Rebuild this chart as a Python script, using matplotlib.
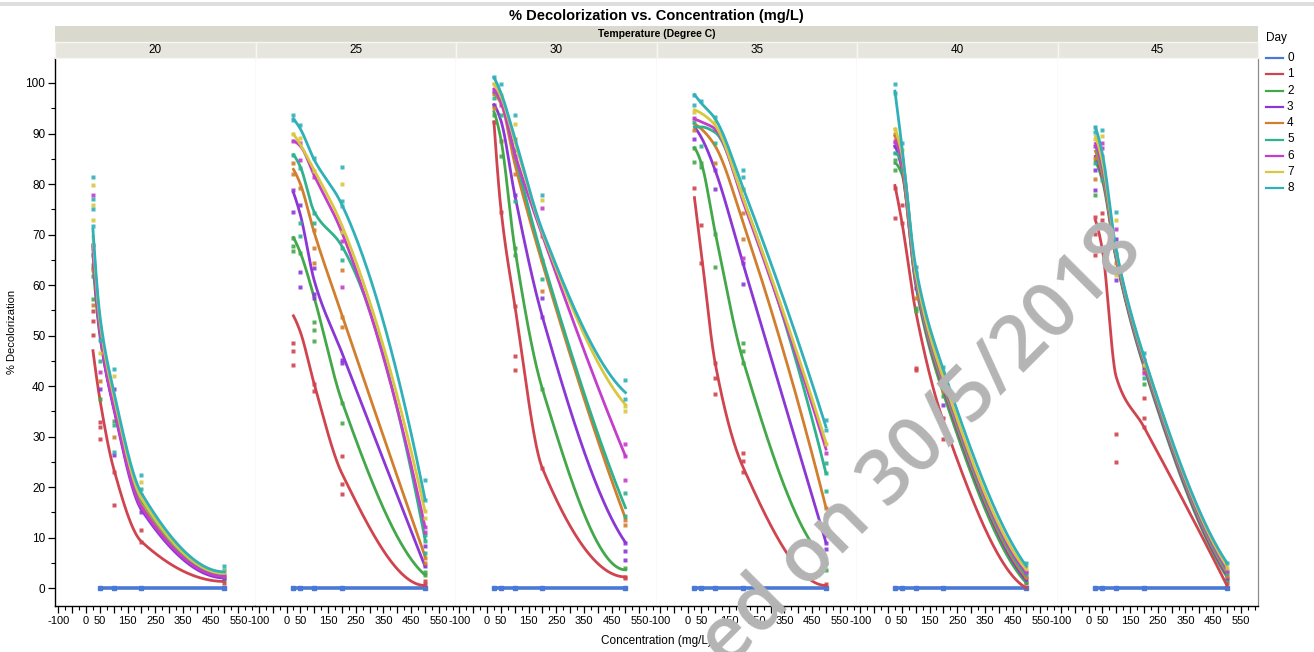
import numpy as np
import matplotlib.pyplot as plt
from matplotlib.lines import Line2D
from matplotlib.patches import Rectangle

plt.rcParams['font.family'] = ['Liberation Sans', 'DejaVu Sans']

temps = [20, 25, 30, 35, 40, 45]
days = [0, 1, 2, 3, 4, 5, 6, 7, 8]
conc = [25, 50, 100, 200, 500]
day_colors = ['#4a78d6', '#cf444e', '#43a84a', '#8b37d6', '#d17f2f',
              '#2fb28d', '#c43ecb', '#d8c840', '#30b0b8']

# smoother values at each concentration, days 1..8
fit_20 = [[47.0, 37.4, 23.6, 9.2, 1.3],
          [64.0, 50.0, 36.0, 16.0, 2.2],
          [66.0, 50.5, 35.5, 15.5, 2.0],
          [67.0, 51.5, 36.5, 16.5, 2.4],
          [68.0, 52.0, 37.5, 17.5, 2.8],
          [67.5, 51.0, 36.0, 16.0, 2.3],
          [69.6, 53.0, 38.0, 17.8, 2.9],
          [71.0, 54.0, 39.0, 18.8, 3.2]]
fit_25 = [[53.9, 50.7, 40.4, 22.7, 0.5],
          [69.4, 66.4, 57.5, 37.0, 2.6],
          [78.3, 73.9, 60.9, 46.6, 4.3],
          [82.9, 80.0, 70.4, 54.1, 6.3],
          [85.8, 83.4, 74.5, 67.7, 9.7],
          [88.5, 87.5, 81.7, 70.4, 12.1],
          [89.9, 87.8, 82.7, 71.8, 15.2],
          [92.9, 90.9, 84.8, 75.9, 17.6]]
fit_30 = [[92.3, 75.2, 56.1, 23.7, 2.2],
          [94.3, 88.9, 67.4, 39.4, 3.6],
          [95.7, 92.6, 77.9, 53.7, 9.0],
          [97.7, 96.0, 84.1, 64.3, 13.8],
          [98.1, 96.7, 85.8, 65.3, 15.9],
          [98.8, 96.4, 86.1, 69.8, 26.1],
          [99.8, 97.4, 88.5, 70.4, 36.3],
          [101.1, 98.1, 89.2, 70.8, 38.7]]
fit_35 = [[77.3, 66.3, 44.5, 24.0, 0.5],
          [87.2, 84.1, 70.4, 45.2, 5.6],
          [91.3, 89.2, 82.7, 64.3, 9.0],
          [91.9, 90.9, 87.5, 72.5, 15.9],
          [91.3, 91.3, 90.2, 77.3, 22.7],
          [92.9, 92.3, 90.9, 76.6, 27.5],
          [94.7, 94.0, 91.6, 77.3, 28.8],
          [97.7, 96.0, 92.9, 79.3, 31.9]]
fit_40 = [[79.7, 72.5, 54.8, 33.0, 0.0],
          [84.1, 82.0, 60.0, 38.5, 1.0],
          [87.5, 83.0, 60.5, 39.5, 1.5],
          [89.5, 84.0, 61.0, 40.0, 2.0],
          [86.1, 84.5, 61.5, 40.5, 2.5],
          [88.2, 85.0, 62.0, 41.0, 3.0],
          [90.9, 86.0, 62.5, 41.5, 3.6],
          [98.4, 87.5, 63.6, 43.2, 4.3]]
fit_45 = [[72.8, 67.0, 41.8, 31.9, 0.5],
          [84.5, 80.7, 65.0, 43.8, 2.2],
          [85.5, 81.5, 65.3, 44.2, 2.6],
          [86.5, 82.0, 65.6, 44.6, 3.0],
          [87.5, 83.0, 66.0, 45.0, 3.4],
          [88.0, 83.5, 66.3, 45.3, 3.8],
          [89.5, 84.5, 66.6, 45.6, 4.3],
          [91.2, 86.0, 67.0, 45.9, 5.0]]

# day 0 stays at zero
day0_conc_20 = [50, 100, 200, 500]
day0_conc = [25, 50, 100, 200, 500]

# replicate measurements (conc, value) by day
pts_20 = {
    8: [(25, 81.3), (25, 77), (25, 75), (25, 71.6), (50, 49.2), (100, 43.4), (100, 27), (200, 22.3), (500, 4.3)],
    7: [(25, 79.8), (25, 75.9), (25, 72.9), (50, 46.6), (100, 42), (200, 21), (500, 3.3)],
    6: [(25, 77.8), (50, 42.7), (100, 36.1), (200, 18.4), (500, 2.6)],
    5: [(25, 66), (50, 45), (100, 32.2), (200, 19.7), (500, 3.6)],
    4: [(25, 63), (25, 56), (50, 41), (100, 30), (200, 17.1), (500, 2.4)],
    3: [(25, 68), (50, 39.4), (100, 39.4), (100, 26.3), (200, 15.1), (500, 2.0)],
    2: [(25, 63.4), (25, 61.8), (25, 57.2), (50, 37.4), (100, 33), (200, 16), (500, 1.8)],
    1: [(25, 54.9), (25, 52.8), (25, 50.1), (50, 32.8), (50, 31.9), (50, 29.6), (100, 23), (100, 16.4),
        (200, 11.5), (200, 9.2), (500, 1.0)],
}
pts_25 = {
    8: [(25, 93.6), (25, 92.6), (50, 91.6), (100, 85.1), (200, 83.4), (200, 76.6), (200, 75.6), (500, 21.3), (500, 17.5)],
    7: [(25, 89.9), (50, 89.2), (100, 82.5), (200, 80), (200, 70.4), (500, 15.2), (500, 13.8)],
    6: [(25, 88.5), (50, 88.2), (50, 84.8), (100, 81.4), (200, 68.7), (200, 59.6), (500, 12.1), (500, 11.0)],
    5: [(25, 85.8), (50, 83.1), (50, 72.2), (50, 69.8), (100, 74.2), (100, 72.2), (200, 67.4), (200, 65),
        (500, 10.4), (500, 9.4), (500, 7.0)],
    4: [(25, 84.1), (25, 82), (50, 79.3), (100, 70.8), (100, 67.4), (100, 64.3), (200, 62.9), (200, 53.7),
        (200, 51.7), (500, 6), (500, 5)],
    3: [(25, 78.8), (25, 74.5), (50, 75.9), (50, 62.6), (50, 59.6), (100, 63.3), (100, 58.2), (100, 57.5),
        (200, 45.2), (200, 44.5), (500, 8.4), (500, 4.3)],
    2: [(25, 69.4), (25, 67.7), (25, 66.7), (50, 66.4), (100, 52.7), (100, 51), (100, 48.9), (200, 36.7),
        (200, 32.6), (500, 3.1), (500, 2.5)],
    1: [(25, 48.6), (25, 46.9), (25, 44.2), (100, 40.4), (100, 39.0), (200, 26.1), (200, 20.6), (200, 18.6),
        (500, 1.4), (500, 0.7)],
}
pts_30 = {
    8: [(25, 101.1), (50, 99.8), (100, 93.6), (200, 77.9), (500, 41.1), (500, 37.4)],
    7: [(25, 99.8), (50, 97.7), (100, 91.9), (200, 76.9), (500, 36), (500, 35)],
    6: [(25, 98.4), (50, 95.7), (100, 85.5), (200, 75.2), (500, 28.5), (500, 26.1), (500, 21.3)],
    5: [(25, 97), (50, 93.6), (100, 86.8), (100, 76.6), (200, 61.2), (500, 18.9), (500, 14.2)],
    4: [(25, 95), (100, 88.9), (100, 82), (200, 69.8), (200, 65), (200, 58.8), (500, 12.4), (500, 13.5)],
    3: [(25, 95.7), (100, 77.9), (200, 57.5), (200, 53.7), (500, 9), (500, 7.3), (500, 5.6)],
    2: [(25, 93.6), (50, 85.5), (100, 67.4), (100, 66), (200, 39.4), (500, 3.9)],
    1: [(25, 92.3), (50, 88.5), (50, 74.5), (100, 55.8), (100, 45.9), (100, 43.2), (200, 23.7), (500, 2.2), (500, 1.9)],
}
pts_35 = {
    8: [(25, 97.7), (25, 95.7), (50, 96.4), (100, 93.3), (200, 82.7), (200, 81.4), (500, 33.3), (500, 31.2)],
    7: [(25, 94.3), (100, 92.3), (200, 79), (500, 28.5)],
    6: [(25, 93), (100, 90.9), (200, 65.3), (500, 26.8)],
    5: [(25, 92.3), (50, 87.5), (100, 88.2), (200, 79), (500, 24.7), (500, 22.7), (500, 19.3)],
    4: [(25, 90.6), (100, 84.1), (200, 74.2), (200, 69.1), (500, 15.9), (500, 14.5)],
    3: [(25, 88.9), (100, 82.7), (100, 79), (200, 64.3), (200, 60.2), (500, 10.4), (500, 9), (500, 7.7)],
    2: [(25, 87.2), (25, 84.4), (50, 84.1), (50, 83.4), (100, 70.1), (100, 63.6), (200, 48.6), (200, 46.9),
        (200, 44.5), (500, 5), (500, 3.6)],
    1: [(25, 79.3), (50, 71.8), (50, 64.3), (100, 44.5), (100, 41.5), (100, 38.4), (200, 26.8), (200, 25.1),
        (200, 23), (500, 11.8), (500, 0.7)],
}
pts_40 = {
    8: [(25, 99.8), (25, 98.1), (50, 88.2), (100, 63.6), (200, 43.8), (500, 5)],
    7: [(25, 90.9), (50, 86.8), (100, 62.5), (200, 42.8), (500, 3.9)],
    6: [(25, 88.5), (50, 84.1), (100, 60.9), (200, 40.8), (500, 3.2)],
    5: [(25, 86.1), (50, 82.7), (100, 62.3), (200, 41.8), (500, 2.9)],
    4: [(25, 89.9), (50, 84), (100, 57.5), (200, 39), (500, 2.2)],
    3: [(25, 87.5), (50, 84.8), (100, 59.5), (200, 36.3), (500, 1.9)],
    2: [(25, 84.8), (25, 82.7), (100, 55.4), (100, 54.8), (200, 38), (500, 1.2)],
    1: [(25, 79.3), (25, 73.2), (50, 75.9), (50, 72.2), (100, 43.5), (100, 43.2), (200, 33.6), (200, 29.5), (500, 0.9)],
}
pts_45 = {
    8: [(25, 91.2), (25, 90.2), (50, 90.6), (100, 74.5), (200, 46.6), (500, 5)],
    7: [(25, 88.9), (50, 89.5), (100, 72.8), (100, 61.9), (200, 44.2), (500, 3.9)],
    6: [(25, 87.5), (50, 88.2), (50, 87.2), (100, 71.1), (200, 45.2), (200, 42.5), (500, 3.4)],
    5: [(25, 84.1), (50, 80.7), (100, 66.4), (200, 41.5), (500, 2.9)],
    4: [(25, 85.1), (25, 81), (50, 85.5), (100, 64.3), (200, 43), (500, 2.4)],
    3: [(25, 82.7), (25, 78.9), (50, 84.1), (100, 69.1), (100, 60.9), (200, 43.5), (500, 1.9)],
    2: [(25, 77.9), (50, 82), (100, 67.7), (200, 40.4), (500, 1.5)],
    1: [(25, 73.5), (25, 70.1), (25, 66), (50, 74.2), (50, 72.8), (50, 71.5), (100, 30.5), (100, 25),
        (200, 37.7), (200, 33.6), (200, 31.9), (500, 0.9)],
}

fits = {20: fit_20, 25: fit_25, 30: fit_30, 35: fit_35, 40: fit_40, 45: fit_45}
points = {20: pts_20, 25: pts_25, 30: pts_30, 35: pts_35, 40: pts_40, 45: pts_45}

x_ticks = list(range(-100, 551, 50))
x_labels = ['-100', '', '0', '50', '', '150', '', '250', '', '350', '', '450', '', '550']


def pchip(x, y, xs):
    # shape preserving cubic, used as the smoother
    x = np.asarray(x, float)
    y = np.asarray(y, float)
    h = np.diff(x)
    d = np.diff(y) / h
    n = len(x)
    m = np.zeros(n)
    for k in range(1, n - 1):
        if d[k - 1] * d[k] > 0:
            w1 = 2 * h[k] + h[k - 1]
            w2 = h[k] + 2 * h[k - 1]
            m[k] = (w1 + w2) / (w1 / d[k - 1] + w2 / d[k])

    def end(h0, h1, d0, d1):
        s = ((2 * h0 + h1) * d0 - h0 * d1) / (h0 + h1)
        if np.sign(s) != np.sign(d0):
            s = 0.0
        elif np.sign(d0) != np.sign(d1) and abs(s) > abs(3 * d0):
            s = 3 * d0
        return s

    m[0] = end(h[0], h[1], d[0], d[1])
    m[-1] = end(h[-1], h[-2], d[-1], d[-2])
    idx = np.clip(np.searchsorted(x, xs) - 1, 0, n - 2)
    t = (xs - x[idx]) / h[idx]
    h00 = 2 * t**3 - 3 * t**2 + 1
    h10 = t**3 - 2 * t**2 + t
    h01 = -2 * t**3 + 3 * t**2
    h11 = t**3 - t**2
    return h00 * y[idx] + h10 * h[idx] * m[idx] + h01 * y[idx + 1] + h11 * h[idx] * m[idx + 1]


W, H = 1314, 652
fig = plt.figure(figsize=(W / 100, H / 100), dpi=100)


def fx(px):
    return px / W


def fy(py):
    return 1 - py / H


left, right, top, bottom = 55, 1258, 58, 606
pw = (right - left) / len(temps)

# top grey band (browser frame)
fig.add_artist(Rectangle((0, fy(6)), 1, fy(2) - fy(6), transform=fig.transFigure,
                         color='#dedede', lw=0))

fig.text(fx((left + right) / 2), fy(16), '% Decolorization vs. Concentration (mg/L)',
         ha='center', va='center', fontsize=10.5, fontweight='bold')
fig.add_artist(Rectangle((fx(left), fy(42)), fx(right - left), fy(26) - fy(42),
                         transform=fig.transFigure, facecolor='#dad9cd', edgecolor='none'))
fig.text(fx((left + right) / 2), fy(34), 'Temperature (Degree C)',
         ha='center', va='center', fontsize=7.5, fontweight='bold')

xs = np.linspace(25, 500, 300)

for i, t in enumerate(temps):
    x0 = left + i * pw
    fig.add_artist(Rectangle((fx(x0), fy(58)), fx(pw), fy(42) - fy(58), transform=fig.transFigure,
                             facecolor='#e7e6de', edgecolor='#f6f6f2', lw=1))
    fig.text(fx(x0 + pw / 2), fy(50), str(t), ha='center', va='center', fontsize=8.5)

    ax = fig.add_axes([fx(x0), fy(bottom), fx(pw), fy(top) - fy(bottom)])
    ax.set_xlim(-112, 612)
    ax.set_ylim(-3.56, 104.95)

    # day 0
    c0 = day0_conc_20 if t == 20 else day0_conc
    ax.plot(c0, [0] * len(c0), color=day_colors[0], lw=2.6, solid_capstyle='butt', zorder=2)
    ax.plot(c0, [0] * len(c0), 's', color=day_colors[0], ms=2.4, zorder=2)

    for d in days[1:]:
        vals = fits[t][d - 1]
        ax.plot(xs, pchip(conc, vals, xs), color=day_colors[d], lw=2.0, zorder=3)
        p = points[t].get(d, [])
        if p:
            ax.plot([q[0] for q in p], [q[1] for q in p], 's', color=day_colors[d],
                    ms=2.6, mec='none', alpha=0.9, zorder=3)

    ax.set_xticks(x_ticks)
    ax.set_xticklabels(x_labels)
    ax.set_xticks(range(-100, 601, 25), minor=True)
    ax.tick_params(axis='x', which='major', length=5, width=0.9, labelsize=8, pad=2)
    ax.tick_params(axis='x', which='minor', length=3, width=0.8)
    ax.spines['top'].set_visible(False)
    ax.spines['bottom'].set_color('black')
    ax.spines['bottom'].set_linewidth(1.0)
    ax.spines['right'].set_color('#d6d6d6' if i < len(temps) - 1 else '#8c8c8c')
    ax.spines['right'].set_linewidth(0.9)
    if i == 0:
        ax.set_yticks(range(0, 101, 10))
        ax.set_yticks(range(0, 105, 5), minor=True)
        ax.tick_params(axis='y', which='major', length=5, width=0.9, labelsize=8.5, pad=2)
        ax.tick_params(axis='y', which='minor', length=3, width=0.8)
        ax.spines['left'].set_color('black')
        ax.spines['left'].set_linewidth(1.0)
    else:
        ax.set_yticks([])
        ax.spines['left'].set_visible(False)

fig.text(fx(12), fy((top + bottom) / 2), '% Decolorization', rotation=90,
         ha='center', va='center', fontsize=8)
fig.text(fx((left + right) / 2), fy(641), 'Concentration (mg/L)', ha='center', va='center', fontsize=8.5)

# legend
fig.text(fx(1266), fy(38), 'Day', ha='left', va='center', fontsize=8.5)
for d in days:
    yy = 58 + d * 16.3
    fig.add_artist(Line2D([fx(1266), fx(1283)], [fy(yy), fy(yy)], transform=fig.transFigure,
                          color=day_colors[d], lw=1.6))
    fig.text(fx(1287), fy(yy), str(d), ha='left', va='center', fontsize=8.5)

# watermark
fig.text(fx(922), fy(446), 'ed on 30/5/2018', rotation=45, rotation_mode='anchor',
         ha='center', va='center', fontsize=55, fontweight='semibold', color='#b4b4b4',
         family=['Open Sans', 'DejaVu Sans'], zorder=10)

fig.savefig('out.png', dpi=100)
